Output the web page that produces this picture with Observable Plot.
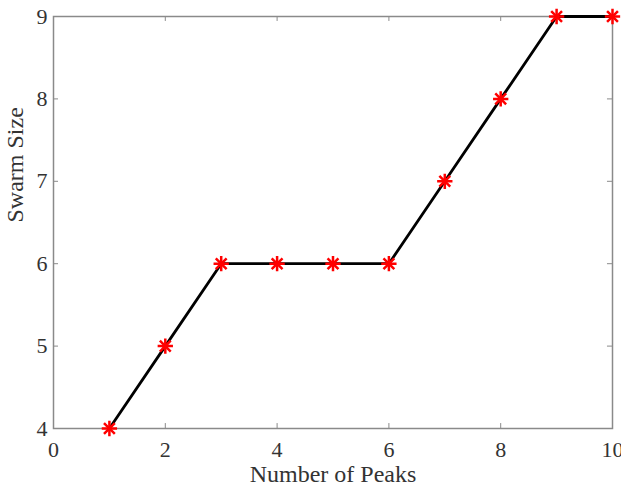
<!DOCTYPE html>
<html>
<head>
<meta charset="utf-8">
<script src="https://cdn.jsdelivr.net/npm/d3@7"></script>
<script src="https://cdn.jsdelivr.net/npm/@observablehq/plot@0.6"></script>
<style>
body { margin: 0; background: #fff; }
</style>
</head>
<body>
<div id="chart"></div>
<script>
const peaks = [1, 2, 3, 4, 5, 6, 7, 8, 9, 10];
const swarmSize = [4, 5, 6, 6, 6, 6, 7, 8, 9, 9];
const xTicks = [0, 2, 4, 6, 8, 10];
const yTicks = [4, 5, 6, 7, 8, 9];
const xLabel = "Number of Peaks";
const yLabel = "Swarm Size";

const data = peaks.map((p, i) => ({peaks: p, size: swarmSize[i]}));
const gray = "#8a8a8a";

const chart = Plot.plot({
  width: 621,
  height: 489,
  marginLeft: 53,
  marginRight: 9,
  marginTop: 16,
  marginBottom: 61,
  style: {fontFamily: "'Liberation Serif', 'Times New Roman', serif", fontSize: "22px", background: "#fff"},
  x: {domain: [0, 10]},
  y: {domain: [4, 9]},
  marks: [
    Plot.frame({stroke: gray, strokeWidth: 1.5}),
    Plot.axisX({ticks: xTicks, tickFormat: d3.format("d"), tickSize: 0, tickPadding: 13, fontSize: 22, color: "#333", label: null}),
    Plot.axisY({ticks: yTicks, tickFormat: d3.format("d"), tickSize: 0, tickPadding: 6, fontSize: 22, color: "#333", label: null}),
    Plot.text([xLabel], {text: d => d, frameAnchor: "bottom", dy: 53, fontSize: 24, fill: "#333"}),
    Plot.text([yLabel], {text: d => d, frameAnchor: "left", dx: -38, rotate: -90, fontSize: 24, fill: "#333"}),
    Plot.ruleX(xTicks, {x: d => d, y1: 4, y2: 4.06, stroke: gray}),
    Plot.ruleX(xTicks, {x: d => d, y1: 9, y2: 8.94, stroke: gray}),
    Plot.ruleY(yTicks, {y: d => d, x1: 0, x2: 0.09, stroke: gray}),
    Plot.ruleY(yTicks, {y: d => d, x1: 10, x2: 9.91, stroke: gray}),
    Plot.line(data, {x: "peaks", y: "size", stroke: "#000", strokeWidth: 2.8}),
    Plot.dot(data, {x: "peaks", y: "size", symbol: "plus", r: 5, stroke: "#ff0000", strokeWidth: 2.5}),
    Plot.dot(data, {x: "peaks", y: "size", symbol: "times", r: 5, stroke: "#ff0000", strokeWidth: 2.5})
  ]
});
document.getElementById("chart").append(chart);
</script>
</body>
</html>
